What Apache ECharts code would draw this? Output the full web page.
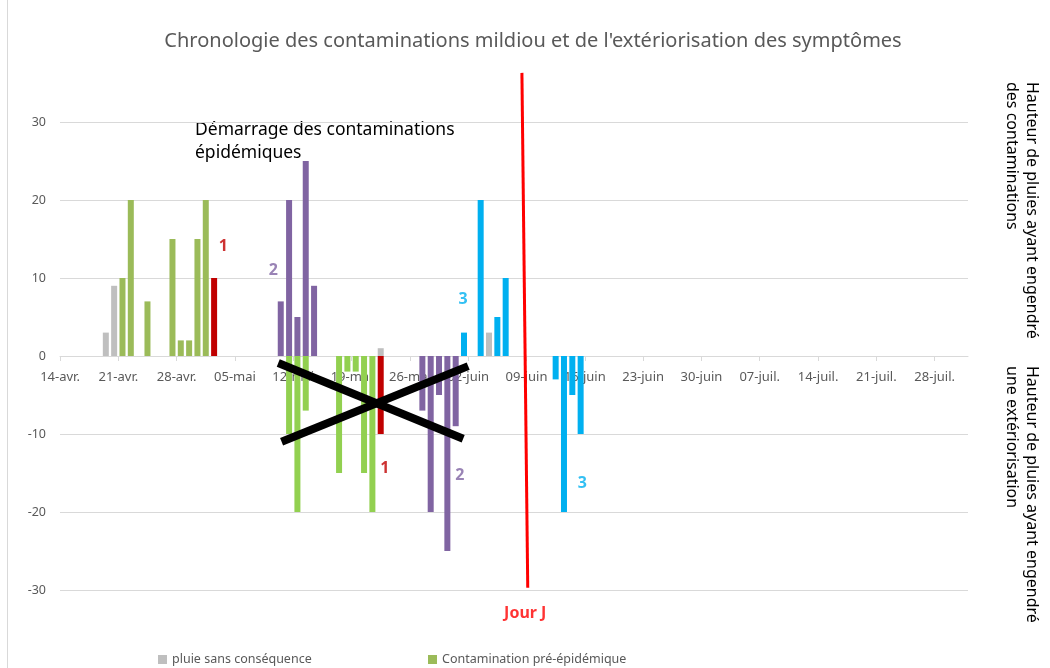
<!DOCTYPE html>
<html><head><meta charset="utf-8">
<script src="https://cdn.jsdelivr.net/npm/echarts@6/dist/echarts.min.js"></script>
<style>html,body{margin:0;padding:0;background:#fff}#c{width:1050px;height:668px}</style>
</head><body><div id="c"></div>
<script>
// ---- tick labels (one every 7 days, starting 14-avr.)
const xTickLabels = ['14-avr.','21-avr.','28-avr.','05-mai','12-mai','19-mai','26-mai','02-juin','09-juin','16-juin','23-juin','30-juin','07-juil.','14-juil.','21-juil.','28-juil.'];

// ---- positive bars: rains that caused contaminations
const pluieDates = ['19/04','20/04','22/05','04/06'];
const pluieValues = [3, 9, 1, 3];
const preEpiDates = ['21/04','22/04','24/04','27/04','28/04','29/04','30/04','01/05'];
const preEpiValues = [10, 20, 7, 15, 2, 2, 15, 20];
const cont1Dates = ['02/05'];
const cont1Values = [10];
const cont2Dates = ['10/05','11/05','12/05','13/05','14/05'];
const cont2Values = [7, 20, 5, 25, 9];
const cont3Dates = ['01/06','03/06','05/06','06/06'];
const cont3Values = [3, 20, 5, 10];

// ---- negative bars: rains that caused an extériorisation
const extPreEpiDates = ['11/05','12/05','13/05','17/05','18/05','19/05','20/05','21/05'];
const extPreEpiValues = [-10, -20, -7, -15, -2, -2, -15, -20];
const ext1Dates = ['22/05'];
const ext1Values = [-10];
const ext2Dates = ['27/05','28/05','29/05','30/05','31/05'];
const ext2Values = [-7, -20, -5, -25, -9];
const ext3Dates = ['12/06','13/06','14/06','15/06'];
const ext3Values = [-3, -20, -5, -10];

// ---- annotations (data coordinates: day offset, value)
const numberLabels = [['1', 19.6, 14.0], ['2', 25.6, 11.0], ['3', 48.4, 7.2], ['1', 39.0, -14.4], ['2', 48.0, -15.3], ['3', 62.7, -16.3]];
const jourJLine = [[55.45, 36.3], [56.15, -29.7]];
const jourJLabel = [55.85, -33.0];
const crossLineA = [[26.2, -0.9], [48.4, -10.6]];
const crossLineB = [[26.6, -11.0], [49.0, -1.3]];

const Y_MIN = -30, Y_MAX = 30;
const START = Date.UTC(2019, 3, 14);
function dayOf(s) { const p = s.split('/'); return (Date.UTC(2019, +p[1] - 1, +p[0]) - START) / 86400000; }
function barData(dates, vals) { return dates.map((d, i) => [dayOf(d) + 0.5, vals[i]]); }

const FONT = 'Noto Sans';
const groupColor = { '1': '#c00000', '2': '#8064a2', '3': '#00b0f0' };
const GRID = { left: 60, right: 82, top: 122, bottom: 78 };
const plotH = 668 - GRID.top - GRID.bottom;
// x axis sits on the value 0 of the y axis
const xAxisOffset = -plotH * (0 - Y_MIN) / (Y_MAX - Y_MIN);

function bar(name, dates, vals, color) {
  return { name, type: 'bar', barWidth: 6, barGap: '-100%', data: barData(dates, vals), itemStyle: { color }, silent: true };
}

const chart = echarts.init(document.getElementById('c'), null, { renderer: 'canvas' });
chart.setOption({
  animation: false,
  textStyle: { fontFamily: FONT },
  grid: GRID,
  legend: [
    { data: ['pluie sans conséquence'], left: 153, top: 648, icon: 'rect', itemWidth: 9, itemHeight: 9, itemGap: 4,
      textStyle: { color: '#595959', fontSize: 12.5, fontFamily: FONT } },
    { data: ['Contamination pré-épidémique'], left: 423, top: 648, icon: 'rect', itemWidth: 9, itemHeight: 9, itemGap: 4,
      textStyle: { color: '#595959', fontSize: 12.5, fontFamily: FONT } }
  ],
  xAxis: {
    type: 'value', min: 0, max: 109, interval: 7, position: 'bottom', offset: xAxisOffset,
    axisLine: { onZero: false, lineStyle: { color: '#d9d9d9' } },
    axisTick: { show: true, length: 5, lineStyle: { color: '#d9d9d9' } },
    axisLabel: { color: '#595959', fontSize: 13, margin: 15, showMaxLabel: false,
      formatter: v => (v % 7 === 0 && xTickLabels[v / 7] !== undefined) ? xTickLabels[v / 7] : '' },
    splitLine: { show: false }
  },
  yAxis: {
    type: 'value', min: Y_MIN, max: Y_MAX, interval: 10,
    axisLine: { show: false, onZero: false }, axisTick: { show: false },
    axisLabel: { color: '#595959', fontSize: 12.5, margin: 14 },
    splitLine: { lineStyle: { color: '#d9d9d9' } }
  },
  series: [
    bar('pluie sans conséquence', pluieDates, pluieValues, '#bfbfbf'),
    bar('Contamination pré-épidémique', preEpiDates, preEpiValues, '#9bbb59'),
    bar('Contamination 1', cont1Dates, cont1Values, '#c00000'),
    bar('Contamination 2', cont2Dates, cont2Values, '#8064a2'),
    bar('Contamination 3', cont3Dates, cont3Values, '#00b0f0'),
    bar('Extériorisation pré-épidémique', extPreEpiDates, extPreEpiValues, '#92d050'),
    bar('Extériorisation 1', ext1Dates, ext1Values, '#c00000'),
    bar('Extériorisation 2', ext2Dates, ext2Values, '#8064a2'),
    bar('Extériorisation 3', ext3Dates, ext3Values, '#00b0f0'),
    { type: 'line', data: crossLineA, symbol: 'none', silent: true, lineStyle: { color: '#000', width: 8, cap: 'butt' } },
    { type: 'line', data: crossLineB, symbol: 'none', silent: true, lineStyle: { color: '#000', width: 8, cap: 'butt' } },
    { type: 'line', data: jourJLine, symbol: 'none', silent: true, clip: false, lineStyle: { color: '#ff0000', width: 3 } },
    { type: 'scatter', symbolSize: 0, silent: true, clip: false,
      data: numberLabels.map(l => ({ value: [l[1], l[2], l[0]],
        label: { show: true, position: 'inside', formatter: l[0], color: groupColor[l[0]], fontSize: 16, fontWeight: 'bold', fontFamily: FONT } })) },
    { type: 'scatter', symbolSize: 0, silent: true, clip: false,
      data: [{ value: jourJLabel, label: { show: true, position: 'inside', formatter: 'Jour J', color: '#ff0000', fontSize: 16, fontWeight: 'bold', fontFamily: FONT } }] }
  ],
  graphic: [
    { type: 'line', shape: { x1: 7.5, y1: 0, x2: 7.5, y2: 668 }, style: { stroke: '#d9d9d9', lineWidth: 1 }, silent: true },
    { type: 'text', x: 533, y: 41, silent: true,
      style: { text: "Chronologie des contaminations mildiou et de l'extériorisation des symptômes", fill: '#595959', font: '20px "' + FONT + '"', textAlign: 'center', textVerticalAlign: 'middle' } },
    { type: 'text', x: 195, y: 119, silent: true,
      style: { text: 'Démarrage des contaminations\népidémiques', fill: '#000', font: '17.5px "' + FONT + '"', lineHeight: 23, textAlign: 'left', textVerticalAlign: 'top' } },
    { type: 'text', x: 1042, y: 82, rotation: -Math.PI / 2, silent: true,
      style: { text: 'Hauteur de pluies ayant engendré\ndes contaminations', fill: '#000', font: '16px "' + FONT + '"', lineHeight: 20, textAlign: 'left', textVerticalAlign: 'top' } },
    { type: 'text', x: 1042, y: 366, rotation: -Math.PI / 2, silent: true,
      style: { text: 'Hauteur de pluies ayant engendré\nune extériorisation', fill: '#000', font: '16px "' + FONT + '"', lineHeight: 20, textAlign: 'left', textVerticalAlign: 'top' } }
  ]
});
</script></body></html>
